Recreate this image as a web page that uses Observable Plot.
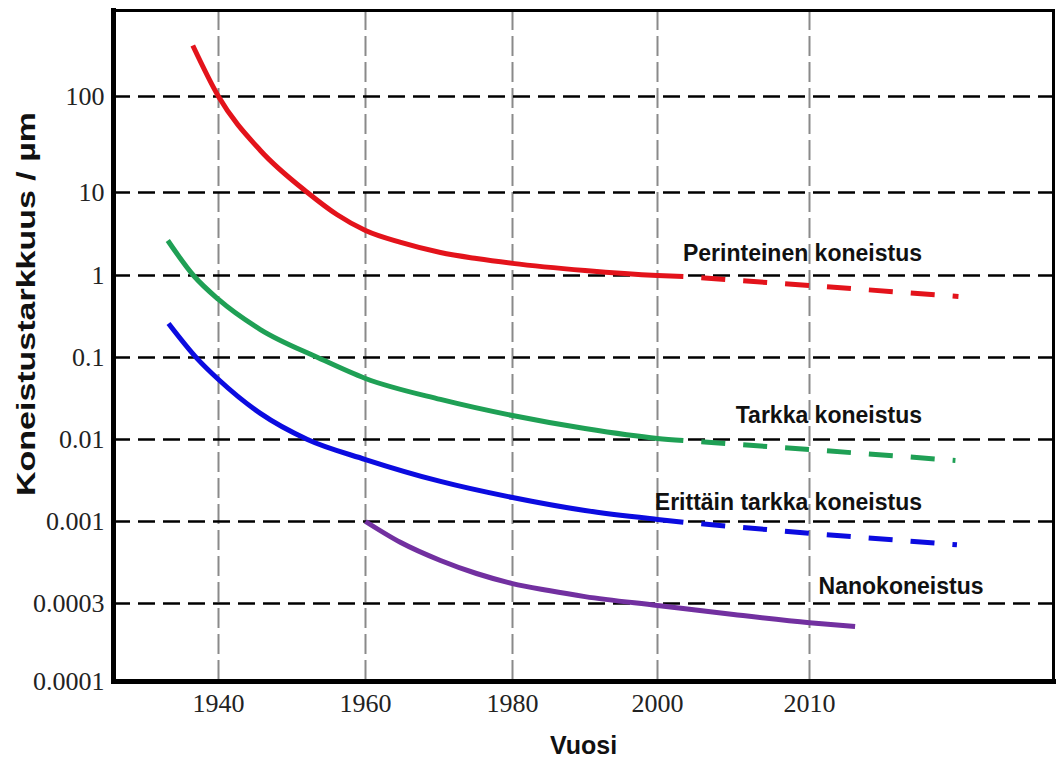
<!DOCTYPE html>
<html>
<head>
<meta charset="utf-8">
<script src="https://cdn.jsdelivr.net/npm/d3@7"></script>
<script src="https://cdn.jsdelivr.net/npm/@observablehq/plot@0.6"></script>
<style>
  html, body { margin: 0; padding: 0; background: #fff; }
  #chart { width: 1057px; height: 760px; overflow: hidden; }
</style>
</head>
<body>
<div id="chart"></div>
<script>
// ---- Axis ticks ----
const yTicks = [100, 10, 1, 0.1, 0.01, 0.001, 0.0003, 0.0001];
const yTickLabels = ["100", "10", "1", "0.1", "0.01", "0.001", "0.0003", "0.0001"];
const xTicks = [1940, 1960, 1980, 2000, 2010];
const xTickLabels = ["1940", "1960", "1980", "2000", "2010"];

// ---- Series (year, accuracy in µm) ----
const redYears = [1936.5, 1940, 1945.7, 1952.1, 1956.1, 1960, 1964.8, 1970.2, 1975.1, 1980, 1990, 2000, 2001.7];
const redValues = [340, 100, 27.4, 10, 5.43, 3.48, 2.50, 1.89, 1.60, 1.40, 1.15, 1.0, 0.97];
const redTrendYears = [2001.7, 2010, 2019.8];
const redTrendValues = [0.97, 0.755, 0.555];

const greenYears = [1933.1, 1936.6, 1940, 1945.7, 1953.5, 1960, 1970.2, 1980, 1990, 2000, 2001.7];
const greenValues = [2.64, 1.0, 0.51, 0.219, 0.1, 0.0555, 0.0308, 0.0196, 0.0136, 0.0103, 0.0097];
const greenTrendYears = [2001.7, 2010, 2019.6];
const greenTrendValues = [0.0097, 0.00755, 0.00555];

const blueYears = [1933.2, 1937.1, 1940, 1945.7, 1952.1, 1960, 1970.2, 1980, 1990, 2000, 2001.7];
const blueValues = [0.26, 0.097, 0.0539, 0.0208, 0.01, 0.0057, 0.00308, 0.00196, 0.00136, 0.00106, 0.00099];
const blueTrendYears = [2001.7, 2010, 2019.7];
const blueTrendValues = [0.00099, 0.00084, 0.00071];

const purpleYears = [1960, 1964.8, 1970.2, 1975.1, 1980, 1985, 1990, 2000, 2005, 2010, 2013];
const purpleValues = [0.001, 0.000734, 0.000564, 0.000466, 0.000402, 0.000363, 0.000332, 0.000292, 0.000257, 0.000229, 0.000217];

// ---- Series labels ----
const labelTexts = ["Perinteinen koneistus", "Tarkka koneistus", "Erittäin tarkka koneistus", "Nanokoneistus"];
const labelYears = [2017.4, 2017.4, 2017.4, 2010.6];
const labelValues = [1.51, 0.0157, 0.0014, 0.000347];

const yTitle = "Koneistustarkkuus / µm";
const xTitle = "Vuosi";

const RED = "#e3131b", GREEN = "#1fa055", BLUE = "#0b0be0", PURPLE = "#7230a0";
const lineStyle = {strokeWidth: 5, strokeLinecap: "butt", curve: "monotone-x"};
const dashStyle = {strokeWidth: 5, strokeLinecap: "butt", strokeDasharray: "24,18", strokeDashoffset: 24};

const endIdx = [0, 1, 2];
const startIdx = [3];

const chart = Plot.plot({
  width: 1057,
  height: 760,
  marginTop: 10,
  marginRight: 4,
  marginBottom: 79,
  marginLeft: 113,
  style: {fontFamily: "'Liberation Sans', Arial, sans-serif", background: "#fff", overflow: "visible"},
  x: {type: "linear", domain: xTicks, range: [218, 365, 512, 657, 809]},
  y: {type: "log", domain: yTicks, range: [96, 192, 275, 357, 439, 521, 603, 681]},
  marks: [
    Plot.ruleX(xTicks, {stroke: "#8a8a8a", strokeWidth: 2, strokeDasharray: "20,6"}),
    Plot.ruleY(yTicks.slice(0, -1), {stroke: "#000", strokeWidth: 2.5, strokeDasharray: "17,8"}),
    Plot.frame({anchor: "left", stroke: "#000", strokeWidth: 5}),
    Plot.frame({anchor: "bottom", stroke: "#000", strokeWidth: 5}),
    Plot.frame({stroke: "#000", strokeWidth: 3}),
    Plot.axisX(xTicks, {
      tickSize: 0, tickPadding: 12, label: null,
      tickFormat: d => xTickLabels[xTicks.indexOf(d)],
      fontSize: 26, fontFamily: "'Liberation Serif', 'Times New Roman', serif", fill: "#222"
    }),
    Plot.axisY(yTicks, {
      tickSize: 0, tickPadding: 9, label: null,
      tickFormat: d => yTickLabels[yTicks.indexOf(d)],
      fontSize: 26, fontFamily: "'Liberation Serif', 'Times New Roman', serif", fill: "#222"
    }),
    Plot.line(redValues, {x: redYears, y: redValues, stroke: RED, ...lineStyle}),
    Plot.line(redTrendValues, {x: redTrendYears, y: redTrendValues, stroke: RED, ...dashStyle}),
    Plot.line(greenValues, {x: greenYears, y: greenValues, stroke: GREEN, ...lineStyle}),
    Plot.line(greenTrendValues, {x: greenTrendYears, y: greenTrendValues, stroke: GREEN, ...dashStyle}),
    Plot.line(blueValues, {x: blueYears, y: blueValues, stroke: BLUE, ...lineStyle}),
    Plot.line(blueTrendValues, {x: blueTrendYears, y: blueTrendValues, stroke: BLUE, ...dashStyle}),
    Plot.line(purpleValues, {x: purpleYears, y: purpleValues, stroke: PURPLE, ...lineStyle}),
    Plot.text(endIdx, {
      x: i => labelYears[i], y: i => labelValues[i], text: i => labelTexts[i],
      textAnchor: "end", lineAnchor: "bottom", fontSize: 23, fontWeight: "bold", fill: "#111"
    }),
    Plot.text(startIdx, {
      x: i => labelYears[i], y: i => labelValues[i], text: i => labelTexts[i],
      textAnchor: "start", lineAnchor: "bottom", fontSize: 23, fontWeight: "bold", fill: "#111"
    }),
    Plot.text([yTitle], {
      frameAnchor: "left", rotate: -90, dx: -87, dy: -42,
      textAnchor: "middle", fontSize: 26, fontWeight: "bold", fill: "#111"
    }),
    Plot.text([xTitle], {
      frameAnchor: "bottom", dy: 72, lineAnchor: "bottom",
      textAnchor: "middle", fontSize: 25, fontWeight: "bold", fill: "#111"
    })
  ]
});

document.getElementById("chart").appendChild(chart);

d3.select(chart).selectAll("text")
  .filter(function () { return this.textContent === yTitle; })
  .attr("textLength", 384)
  .attr("lengthAdjust", "spacingAndGlyphs");
</script>
</body>
</html>
